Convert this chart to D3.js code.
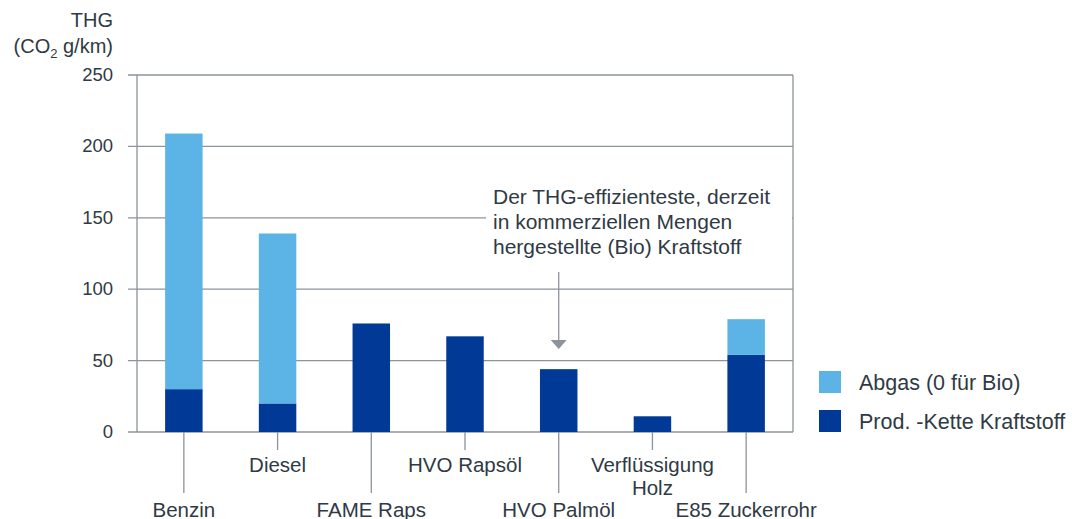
<!DOCTYPE html>
<html>
<head>
<meta charset="utf-8">
<script src="https://cdn.jsdelivr.net/npm/d3@7"></script>
<style>
  body { margin: 0; background: #fff; }
  text { font-family: "Liberation Sans", Arial, sans-serif; fill: #2f3a44; }
</style>
</head>
<body>
<div id="chart"></div>
<script>
var categories = ["Benzin", "Diesel", "FAME Raps", "HVO Rapsöl", "HVO Palmöl", "Verflüssigung\nHolz", "E85 Zuckerrohr"];
var prodValues = [30, 20, 76, 67, 44, 11, 54];   // Prod. -Kette Kraftstoff
var abgasValues = [179, 119, 0, 0, 0, 0, 25];    // Abgas (0 für Bio)
var yTicks = [0, 50, 100, 150, 200, 250];
var seriesNames = ["Abgas (0 für Bio)", "Prod. -Kette Kraftstoff"];
var longLeader = [true, false, true, false, true, false, true];

var width = 1072, height = 519;
var plotLeft = 137, plotRight = 793, plotTop = 75, plotBottom = 432;
var light = "#5bb3e6", dark = "#003a96", grid = "#8c939b";

var svg = d3.select("#chart").append("svg")
    .attr("width", width)
    .attr("height", height);

var x = d3.scaleBand().domain(categories).range([plotLeft, plotRight]).paddingInner(0.6).paddingOuter(0.3);
var y = d3.scaleLinear().domain([0, 250]).range([plotBottom, plotTop]);

// grid lines + y labels
svg.append("g").selectAll("line").data(yTicks).enter().append("line")
    .attr("x1", plotLeft - 9).attr("x2", plotRight)
    .attr("y1", function(d) { return y(d); }).attr("y2", function(d) { return y(d); })
    .attr("stroke", grid).attr("stroke-width", 1.3);
svg.append("g").selectAll("text").data(yTicks).enter().append("text")
    .attr("x", 113).attr("y", function(d) { return y(d) + 6; })
    .attr("text-anchor", "end").attr("font-size", 18.5)
    .text(function(d) { return d; });

// vertical frame
[plotLeft, plotRight].forEach(function(px) {
    svg.append("line").attr("x1", px).attr("x2", px).attr("y1", y(250)).attr("y2", y(0))
        .attr("stroke", grid).attr("stroke-width", 1.3);
});

// axis title
svg.append("text").attr("x", 113).attr("y", 27).attr("text-anchor", "end").attr("font-size", 20).text("THG");
var t2 = svg.append("text").attr("x", 113).attr("y", 53).attr("text-anchor", "end").attr("font-size", 20);
t2.append("tspan").text("(CO");
t2.append("tspan").attr("font-size", 13).attr("dy", 5).text("2");
t2.append("tspan").attr("dy", -5).text(" g/km)");

// annotation (white box hides grid line behind text)
svg.append("rect").attr("x", 486).attr("y", 180).attr("width", plotRight - 487).attr("height", 78).attr("fill", "#fff");
var annLines = ["Der THG-effizienteste, derzeit", "in kommerziellen Mengen", "hergestellte (Bio) Kraftstoff"];
svg.append("g").selectAll("text").data(annLines).enter().append("text")
    .attr("x", 493).attr("y", function(d, i) { return 204 + i * 25; })
    .attr("font-size", 21).text(function(d) { return d; });
var ax = x(categories[4]) + x.bandwidth() / 2;
svg.append("line").attr("x1", ax).attr("x2", ax).attr("y1", 272).attr("y2", 342)
    .attr("stroke", grid).attr("stroke-width", 1.3);
svg.append("path").attr("d", "M" + (ax - 8) + ",340 L" + (ax + 8) + ",340 L" + ax + ",349 Z").attr("fill", grid);

// bars
var bars = svg.append("g");
categories.forEach(function(c, i) {
    bars.append("rect").attr("x", x(c)).attr("width", x.bandwidth())
        .attr("y", y(prodValues[i])).attr("height", y(0) - y(prodValues[i])).attr("fill", dark);
    if (abgasValues[i] > 0) {
        bars.append("rect").attr("x", x(c)).attr("width", x.bandwidth())
            .attr("y", y(prodValues[i] + abgasValues[i])).attr("height", y(prodValues[i]) - y(prodValues[i] + abgasValues[i]))
            .attr("fill", light);
    }
});

// category leader lines + labels
categories.forEach(function(c, i) {
    var cx = x(c) + x.bandwidth() / 2;
    var end = longLeader[i] ? 493 : 450;
    svg.append("line").attr("x1", cx).attr("x2", cx).attr("y1", plotBottom).attr("y2", end)
        .attr("stroke", grid).attr("stroke-width", 1.3);
    var parts = c.split("\n");
    var baseY = longLeader[i] ? 517 : 472;
    parts.forEach(function(p, j) {
        svg.append("text").attr("x", cx).attr("y", baseY + j * 23)
            .attr("text-anchor", "middle").attr("font-size", 20.5).text(p);
    });
});

// legend
var legendColors = [light, dark];
seriesNames.forEach(function(s, i) {
    svg.append("rect").attr("x", 819).attr("y", 371 + i * 39).attr("width", 22).attr("height", 22).attr("fill", legendColors[i]);
    svg.append("text").attr("x", 859).attr("y", 390 + i * 39).attr("font-size", 21.5).text(s);
});
</script>
</body>
</html>
